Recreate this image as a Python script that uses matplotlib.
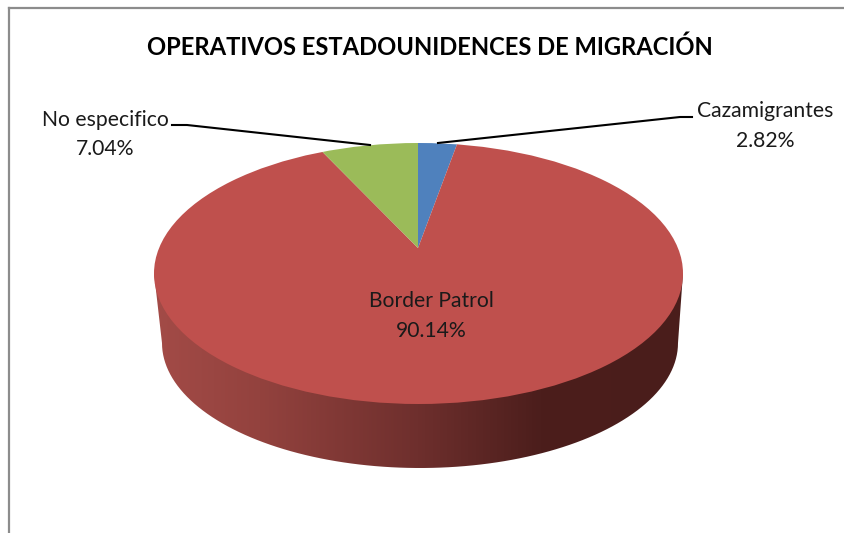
import numpy as np
import matplotlib
matplotlib.use("Agg")
import matplotlib.pyplot as plt
from matplotlib.colors import LinearSegmentedColormap
from matplotlib.patches import Ellipse, PathPatch
from matplotlib.path import Path

titulo = "OPERATIVOS ESTADOUNIDENCES DE MIGRACIÓN"
categorias = ["Cazamigrantes", "Border Patrol", "No especifico"]
porcentajes = [2.82, 90.14, 7.04]
colores = ["#4F81BD", "#BF504D", "#9BBB59"]

W, H = 845, 533
fig = plt.figure(figsize=(W / 100, H / 100), dpi=100, facecolor="white")

# ejes en pixeles para marco, pared y textos
ax = fig.add_axes([0, 0, 1, 1])
ax.set_xlim(0, W)
ax.set_ylim(H, 0)
ax.axis("off")

# marco del grafico
ax.plot([9, 9], [H, 8], color="#8C8C8C", lw=1.6, solid_joinstyle="miter")
ax.plot([9, W], [8, 8], color="#8C8C8C", lw=1.6)

# pared del pastel con degradado
t = np.linspace(np.pi, 0, 100)
xs = np.concatenate([[154], 420 + 258 * np.cos(t), [683]])
ys = np.concatenate([[273], 343 + 125 * np.sin(t), [273]])
pared = PathPatch(Path(np.column_stack([xs, ys])), transform=ax.transData, fc="none", ec="none")
ax.add_patch(pared)
cmap = LinearSegmentedColormap.from_list(
    "pared", [(0, "#A34B47"), (0.2, "#93423E"), (0.5, "#6E2F2D"), (0.73, "#4C1E1C"), (1, "#4A1D1B")]
)
im = ax.imshow(np.linspace(0, 1, 256).reshape(1, -1), cmap=cmap, aspect="auto",
               extent=[154, 683, 468, 273], zorder=1)
im.set_clip_path(pared)
ax.set_xlim(0, W)
ax.set_ylim(H, 0)

# tapa del pastel: vertice en (418, 248), recortada a la elipse
ax_pie = fig.add_axes([0, 0, 1, 1], zorder=2)
wedges, _ = ax_pie.pie(porcentajes, colors=colores, startangle=90, counterclock=False,
                       radius=2, wedgeprops={"linewidth": 0})
ax_pie.set_aspect("auto")
ax_pie.set_xlim(-418 / 264.5, (W - 418) / 264.5)
ax_pie.set_ylim((248 - H) / 126, 248 / 126)
tapa = Ellipse((418.5, 273.5), 529, 261, transform=ax.transData)
for w in wedges:
    w.set_clip_on(True)
    w.set_clip_path(tapa)

# textos y lineas guia
ax_txt = fig.add_axes([0, 0, 1, 1], zorder=3)
ax_txt.set_xlim(0, W)
ax_txt.set_ylim(H, 0)
ax_txt.axis("off")

ax_txt.plot([172, 187, 370], [125, 125, 145], color="black", lw=1.5)
ax_txt.plot([692, 680, 438], [117, 117, 143], color="black", lw=1.5)

fuente = "Lato"
ax_txt.text(430, 47, titulo, family=fuente, weight="bold", fontsize=17.1, ha="center", va="center", color="black")
posiciones = [(765, 126), (431, 316), (105, 134.5)]
for cat, val, (x, y) in zip(categorias, porcentajes, posiciones):
    ax_txt.text(x, y, f"{cat}\n{val:.2f}%", family=fuente, fontsize=15.2, ha="center", va="center",
                color="#1A1A1A", linespacing=1.6)

fig.savefig("out.png", dpi=100)
